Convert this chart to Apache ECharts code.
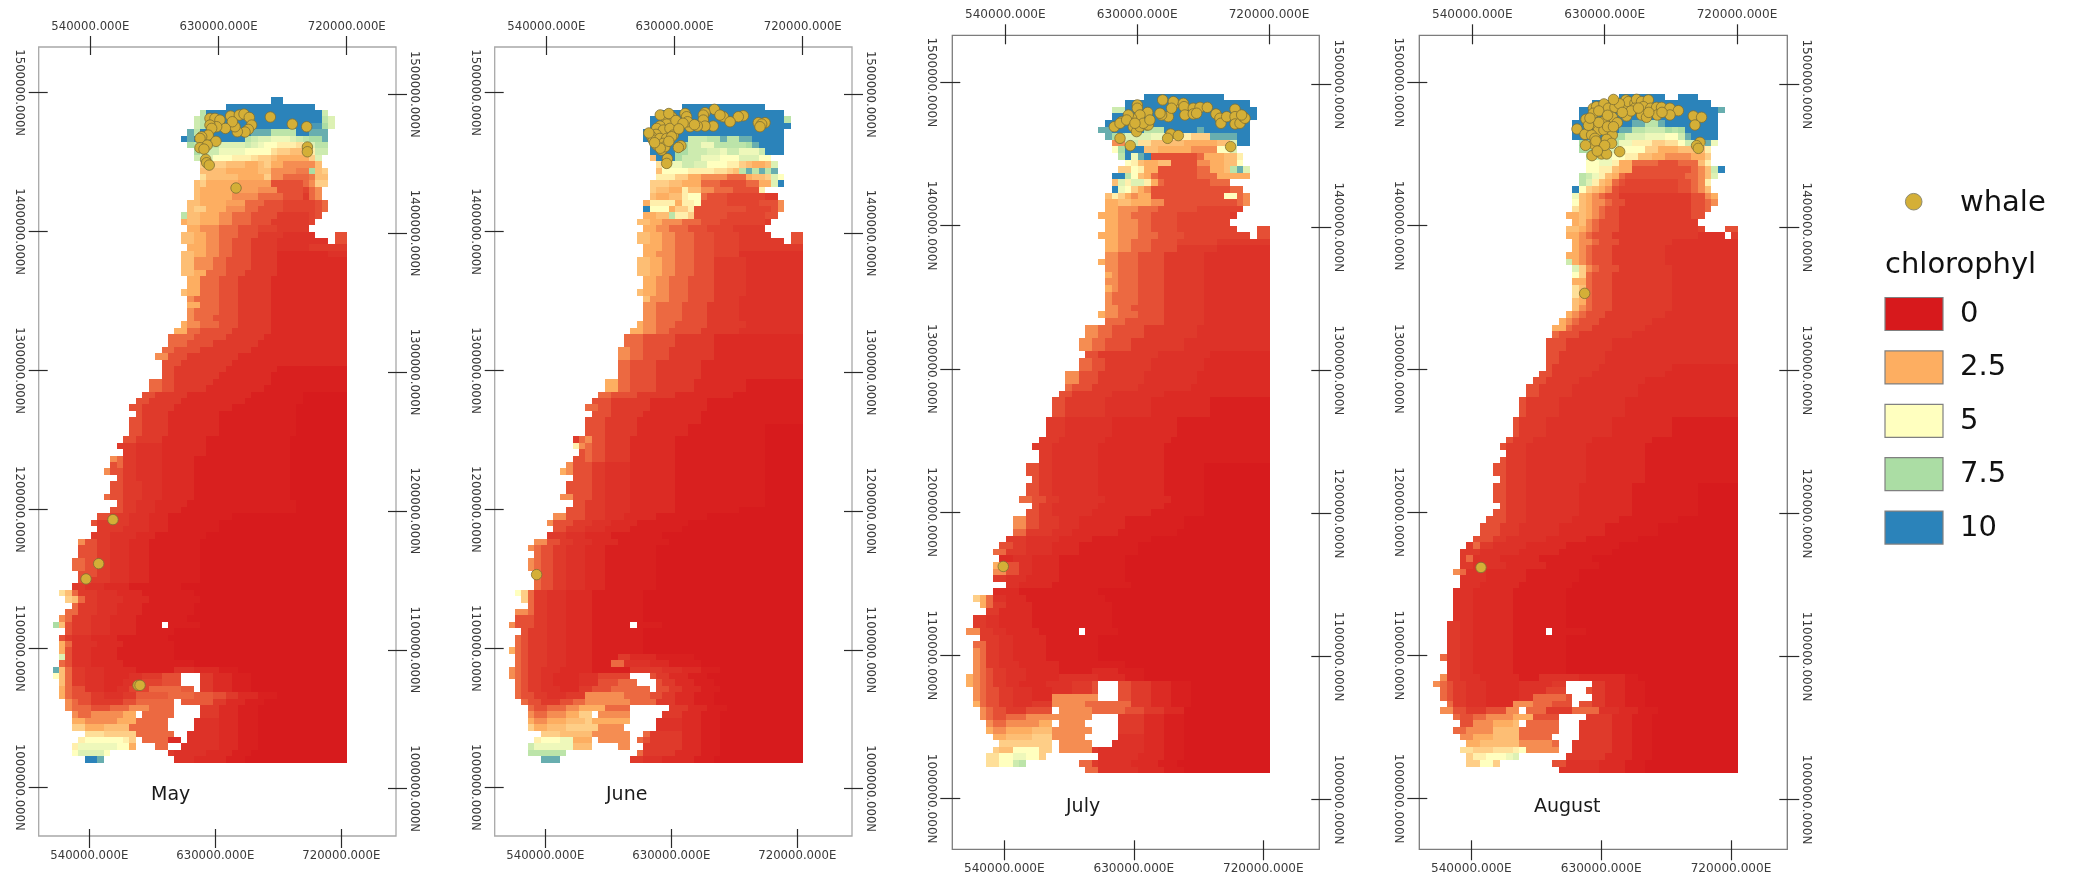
<!DOCTYPE html>
<html><head><meta charset="utf-8">
<style>html,body{margin:0;padding:0;background:#fff}#c{width:2073px;height:877px}</style>
<script src="https://cdn.jsdelivr.net/npm/echarts@6/dist/echarts.min.js"></script>
</head><body><div id="c"></div>
<script>
// Chlorophyll rasters, one run-length string per row, north to south.
// Each row: first column, then letter (level) + optional repeat; "_" is no data.
// From row 23 southward the last run reaches the raster's east edge.
const levelLetters = 'abcdefghijklmnopqrstuvwxyz';
const levelValues = [.03,.12,.3,.42,.55,.7,.9,1.1,1.35,1.65,1.95,2.25,2.5,3,3.5,4,4.5,5,5.5,6,6.5,7,7.5,8.8,9.4,10];
const mayRows = ["34z2","27z14","23vz18u","22uvz18vt","22uvz16yywt","21xvz8x3v4z2x3","20zxz8vutts3tuvwwx","21wv4t4utsr2q3prtv2","22wu3s4r4poon2oqu2","22ut2r3q3poonm5ot",
"23o4n3m2nom2k4kn","23n4m5n2k4j2wno","23pn5m4okki4jn2","22nom5l5g5ikoo","22nm5l4k3g4fik","22nm5k4i4g3eik","21n2m4l3i3g3f5gi","21noom3k3i2g4f5gi","20vn2m3k2i3g4e5fg","20mn2m3k2i3g3e6f",
"21m2k3i3g3f3e5","20n2m2k2i3g3e4d5_3g2","20n2m2k2i2g3e4d8_gg","21m3k2i2g3e4d5e6","20n2m2k2i2g3e4c8d3","20n2k3i2g4e4c11","20n2k3i2g4e4c11","20n2m2i3g3e5c11","21m2i3g3e5c12","21m2i3g3e5c12",
"20nm2i3g3e5c12","21ki4g3e5c12","21m2i3g3e5c12","21ki4g3e5c12","21ki3g4e5c12","20mk2i3g3e5c12","19m2i2g5e6c12","18i4g5e6c13","18i3g4e7c14","17i2g4e8c15",
"16k2g3e8c17","17g3e8c18","17g2e8c8b11","17g2e7c8b12","15i2g2e6c9b12","15i2g2e5c9b13","14g2e5c10b8a7","13g2e5c10b9a7","12g2e5c9b10a8","13ge4c8b12a8",
"12g2e4c8b12a8","12g2e4c8b12a8","12g2e4c8b12a8","11g2e4c7b13a9","10e3d4c7b13a9","11e2d4c7b13a9","9kie2d4c5b15a9","9gie2d4c5b15a9","8kg2e2d4c5b15a9","10ge2d4c5b15a9",
"9g2e3d3c5b15a9","9g2e3d3c5b15a9","8ig2e3d3c5b15a9","10ge2d3c5b17a8","9g2e2d3c4b18a8","7g2e3d3c3b10a18","6ge5d3c3b8a20","7e4d4c3b8a20","6e3d4c3b8a22","4kg2e2d3c3b8a23",
"4g3e2d3c3b8a23","4g3e2d3c3b8a23","3i2g2e2d3c3b8a23","3i2g2e2d3c3b8a23","4g3e2d3c3b8a23","4g2e3d3c3b8a23","3e2d3c4b8a26","1pnie3d3c4b8a24","2onie2d4c4b8a23","3ie3d3c4b8a24",
"2i2e3d3c4b8a24","1kie3d3c4b8a25","0wnge3d3c4b4_b5a23","2ge3d3c4b6a27","1ged3c4b8a28","1mid4c4b8a27","1mgd3c4b9a27","1tgd3c4b9a27","1igd3c5b11a24","0xnie2d3c5b6d3c4b3a18",
"0rnie2d3c4d2e3g3_3e2c3b3a16","1nie2d3c3d3f3g3_3e2c3b3a16","1mig2d3c2d2f3i5h2_e2c3b3a16","1mig3e2d3e2h5i4h3g2e2c3b3a14","2kig2e5g2i6_h5e2c3b3a16","2kii2g3i3k3i4_4e3c3b3a16","3ki2k5m2_i5_4e3c3b3a16","3m2k5m3i5_4d4c3b3a16","3o2m3n4ii5_4d4c3b3a16","5p3o5i6_2d5c3b3a16",
"4qr6qo_i4c2_d5c3b3a16","3qs6r2m_3i2_2d6c3b3a16","3rt4r_9ed5c4b3a17","5z2x_11d3c5b3a18"];
const juneRows = ["","27z13","24z19","22z21v","22z22","21z22","21z7u3v2xv2x2z5","22z5wu2s2v5wxz4","22z4w2u3t2su2s3uz3","22nz3wu3s3r3t3r2",
"23ps3u2t2r3q2onmmnt","23nr4q4p2onvxvxvx","23q3o2m2k4i3mn2otr","22o3n2m3i3g4i2m2tz","22on2m2qn2k2i3g4q","22nm2n2qr2ig3f6e2","21mq4mq2rg4f5g3k","21zr3mo2qg8f4gk","21m2n2vq2og5f6g2","20n2m2k3i3g3f7e",
"21m2k2i3g3f4e5","20n2m2k2i3g3f4e5_3gg","20n2m2k2i3g3f4e7_gg","21m3k2i3g3f4e10","21m2k3i3g3f4d10","20n2m2k2i3g3e5d9","20n2m2k2i3g3e5d9","20n2m2k2i3g3e5d9","21m2k2i3g4e5d9","21m2k2i3g4e5d9",
"20nm2k2i3g4e5d9","21nk3i3g4e4d10","21k2i4g4e5d10","21k2i4g4e5d10","21k2i4g4e5d10","20mk2i3g5e6d9","19m2k2i2g5e6d10","18i3g5e6c14","18i3g5e6c14","17k2i2g4e7c14",
"17k2i2g4e7c14","17i2g4e7c16","17i2g4e7c16","17i2g4e7c16","15m2i2g4e6c8b9","15m2i2g4e6c8b9","14i2g4e6c9b11","13g3e6c9b15","12i2g2e6c9b15","13g3e5c9b16",
"12g3e5c10b16","12g3e5c8b12a6","12g3e5c8b12a6","10eikg2e4c7b14a6","10qkig2e4c7b14a6","11gig2e4c7b14a6","10ggig2e4c7b14a6","9kg3e2d4c7b14a6","8mkg3e2d4c7b14a6","10g3e2d4c7b14a6",
"9g4e2d4c7b14a6","9g4e2d4c7b14a6","8k2g3e2d4c7b14a6","10g2e3d4c7b14a6","9g3e3d4c7b10a10","7k2g3e3d3c5b8a15","6kg3e3d3c4b8a18","7g2e3d3c4b8a19","6e3d3c4b8a22","4k2g2e2d3c4b8a21",
"3kig2e2d3c3b8a23","4ig2e2d3c3b8a23","3kig2e2d3c3b8a23","3kig2e2d3c3b8a23","4kg2e2d3c3b8a23","4ig2e2d3c3b8a23","4ig2e2d3c3b8a23","1roie2d3c4b8a25","2oie2d3c4b8a25","3ie2d3c4b8a25",
"1k2ie2d3c4b8a25","1g3e2d3c4b8a25","0kg3e2d3c4b6_b4a24","2ge3d3c4b8a25","1ige3d3c4b8a25","1ige3d3c4b8a25","0mige3d3c4b8a25","1ige3d3c4b4e2c4b6a17","1ige3d3c4b3i2d4c3b5a16","0kige2d3c5b6e5d3c3b3a14",
"0kige2d2c4d3f5_3ge2c3b3a15","1ige2d2c4d3g3i3_3ge2c3b3a15","1ige2d3c3e2g3i6_g2e2c3b3a14","1ig2e2d3e3k6i4g2e2c3b3a14","2ig2e3g2i2k7i4e3c3b3a15","3ig2i3k2m4i4_6e3c3b3a14","3ki2k3m2o2_k5_5e3c3b3a15","3mk2m3n3om6_4d4c3b3a15","3om2n3o5k4_5d4c3b3a15","5o3n5k6_2ie5c3b3a15",
"4qr3s2m3_k5_ige5c3b3a15","3us6n3_4k2_2e6c3b3a15","3v6_11ie5c4b3a15","5x3_11e2d3c5b3a16"];
const julyRows = ["","27z12","24z19","22u2z20","22z22","21z22","20x2z5v3z5xz7","21xw2t4s3q3o3x4z2","22k2u2p2n5m5n2tz2","22rwz3n2m5k4r2t",
"23vzsxzg7im3n2q","24rqnm2n2g4k2m2n2r","23o2rqm2g6i2m2nvxt","22z2vrnmig6i3m5","22ntqt2qmig7i3","22zsromkg12i2","21nqomkm2g11r2ik","21m2n2m3k2g11ik","21m2k3i3g6f7","20mm2k2i3g4f8e",
"21m2k3i2g4f8","21m2k3i2g4f9_3gg","20mm2k3i3g4f10_gg","21m2k2i3g4f6e8","21m2k2i3g4e6d8","21k2i3g4e6d10","20mk2i3g4e6d10","21k2i3g4e6d10","21mki3g4e6d10","21k2i3g4e6d10",
"21mki3g4e6d10","21ki4g4e6d10","21ki4g4e6d10","21k2i2g5e6d10","20mk2i3g4e6d10","21i3g6e6d10","18k2i2g5e8d11","18k2i2g5e8d11","17k2i2g4e8d13","17k2i2g4e8d13",
"18g2e9d8c9","17i2g2e7d8c10","17i2g2e7d8c10","15k2g3e7d8c11","15k2g3e7d8c11","15ig3e7d8c12","14g2e6d8c16","13g2e6d7c9b9","13g2e6d7c9b9","13g2e6d7c9b9",
"12e3d7c10b14","12e3d7c10b14","12e3d7c10b14","11e3d7c10b15","10e3d7c10b16","11e2d7c10b16","11e2d7c10b16","9g2e2d7c10b6a10","9g2e2d7c10b6a10","10ge2d7c10b6a10",
"9g2e2d7c10b6a10","9g2e2d7c10b6a10","8i2g2e2d7c10b5a10","10ge2d7c10b6a10","9g2e2d6c9b8a10","7k2g2e3d3c7b9a13","7k2g2e3d3c7b9a13","7i2e4d3c7b9a14","6e3d5c5b9a18","5g2e2d4c4b9a20",
"4i2e3d4c4b9a20","5c2d3c4b10a22","4m2g2d2c4b10a22","4k2g2d2c4b10a22","4e2d3c5b10a22","6d2c5b12a21","4c4b12a26","1omid2c3b12a25","2mie2c4b12a24","3e2c5b12a24",
"1e2d2c5b12a24","1e2d2c5b12a24","0k2e2d2c5b6_b5a23","2e3d2c5b8a26","1i2e2d2c5b8a26","1kie2d2c5b8a26","1kie2d2c5b8a26","1kie2d3c6b10a22","1kige2d3c5b5c4b4a19","0mkige2d3c5d6c4b3a17",
"0mkige2d2c4d4e3g_3g2e3c3b3a12","1kig2e2d3c3d3e3g_3g2e3c3b3a12","1kig2e2d3c3k7_3g2e3c3b3a12","1mig2e2d3e3k5i7e3c3b3a15","2kig2e3g4_k5i5g3e3c3a16","2kig2i3k4k6_4e4c3b3a15","3ki2k5m2_k4_5e4c3b3a15","3mk2m4n3k6_4e4c3b3a15","4m2n4o3k5_5d4c3b3a15","5o8_k5_3d5c3b3a15",
"4on2r4o2_k5ed7c3b3a15","3p2r2s2r2o_8d6c4b3a15","3p2r2uv_8i2ed5c4b3a15","18i2d6c4b3a15"];
const augustRows = ["","28z7_2z3","24z18","22z21x","22z21","21z9x2v2xz8","21z7x2v2u3wvwz5","21z6w2t3s3r2uxz4","22w3v3s2q3o2p2ru3xs","22w2u2t2r4o2m3n4q",
"23u2s2r2q2n2m2k4m2o","23r2s2qm2i4g3i3nq","23r2q2nm2g9iknuz","22vusqnmig9i2knt","22vtqnmigf8g2ikq","21zronmkgf9g2ikn","21snmkig2e11g2km","21rnmk2ig2e10g2ik","21pnmkig2e11g2i","20m2nmkig2e11g2",
"21mnkig3e12","20n2mkig3e12f_3g2","20m2kig3e13d4_e","21mk2ig3e8d10","21mkig3e8d11","20mmkig3e8d11","20umkig3e8d11","21tokig3e8d10","21roig3e9d10","21m2ig3e9d10",
"21pnig3e9d10","21pmig3e9d10","21nmig3e9d10","21nkig3e9d10","20mkig3e9d11","19mkig3e8d13","18m2ig3e8d14","18ig3e8d16","17g3e7d19","17g3e7d19",
"17g2e7d20","17g2e7d20","17ge7d11c9","16g2e6d11c11","15g2e5d10c14","14g2e5d10c15","14g2e5d10c15","13ge5d10c17","13ge5d10c17","13ge5d10c17",
"12ge4d10c9b10","12ge4d10c9b10","12ge4d10c9b10","11ge3d9c9b13","10ge3d9c9b14","11e3d9c9b14","10ge3d9c9b14","9g2e3d9c9b14","9g2e3d9c9b14","10ge3d9c9b14",
"9g2e3d8c8b10a6","9g2e3d8c8b10a6","9g2e3d8c8b10a6","10ge3d8c8b10a6","9g2e3d8c8b10a6","8g3e3d7c7b9a9","7g3e3d6c7b8a12","7g3e3d6c7b8a12","6g3e2d6c6b8a15","5eie2d5c6b8a18",
"4e3d6c6b8a19","4eid4c6b8a22","4e2d5c6b8a21","3kid3c6b8a24","4d4c6b8a24","4d3c6b8a25","3d3c6b8a26","3d3c6b8a26","3d3c6b8a26","3d3c6b8a26",
"3d3c6b8a26","2e2d2c6b8a26","2e2d2c6b5_b5a23","2e2d2c6b8a26","2e2d2c6b8a26","2e2d2c6b8a26","1ie2d2c6b8a26","2e2d2c6b8a26","2e2d2c6b8a26","1ke2d3c6b3d6c7b2a15",
"0kige2d3c5d5e2_4e2c3b3a15","1ige2d3c5d4f3_3ge2c3b3a15","1ige2d3c5d2i5g_3e2c3b3a15","2ie2d3c4k3i3g3_g2e2c3b3a16","1k2g2e3g3k2_i3e4i4d3c3b3a15","3ig2i2k4m3g4_4e4c3b3a15","4g2k3m3n_i5_3e5c3b3a15","3i2k4n4i6_3e5c3b3a15","4k2m3n4i5_4e5c3b3a15","5m2n6k5i_2e6c3b3a15",
"4p2o3p3qrk5_2e6c3b3a15","5oq2r3st_7e6c4b3a15","5o2r2o_8g2d5c4b3a15","19d6c4b3a15"];

// Whale sightings [easting km, northing km]
const mayWhales = [[624,1481.5],[627.5,1481.5],[631,1480.3],[638.5,1483.2],[644.6,1483.9],[647.9,1484.6],[651.6,1482.2],[653.3,1476.7],[650.9,1473.6],[648.6,1471.7],[643.2,1471.9],[641.6,1475.5],[639.7,1479.1],[634.8,1474.3],[628.7,1475.5],[624,1476.7],[625.2,1474.3],[622.8,1469.5],[618.2,1468.3],[617,1467.1],[628.2,1465],[622.1,1462.3],[617,1460.4],[619.8,1459.4],[621,1452],[621.7,1449.6],[623.5,1447.9],[666.4,1482.5],[681.8,1477.4],[691.9,1475.5],[692.4,1460.9],[692.4,1457.5],[642.3,1431.4],[555.9,1192.7],[545.9,1161],[537,1150],[573.5,1073.4],[574.9,1073.4]];
const juneWhales = [[658,1488],[637.4,1485],[638.5,1482.7],[651.4,1485.6],[650.2,1483.9],[650.2,1480.3],[664.3,1482.7],[661.9,1483.9],[678.3,1483.4],[674.8,1482.7],[669,1479.1],[657.2,1476],[651.4,1476],[646,1476],[640.9,1475.5],[639.2,1479.1],[633.8,1476.7],[631.5,1476],[629.2,1479.1],[623.3,1482.7],[628,1482.7],[624.5,1477.4],[619.8,1476],[617.5,1474.3],[622.1,1473.1],[626.8,1474.3],[629.2,1469.5],[617,1470],[614,1468.3],[615.1,1465.9],[619.8,1467.1],[624.5,1467.1],[628,1468.3],[617.5,1462.3],[622.1,1463.5],[621,1458.7],[623.3,1461.1],[634.5,1461.8],[632.7,1460.6],[625,1452.5],[624.5,1449.1],[688.8,1478.4],[693.5,1478.4],[691.2,1477.4],[690,1475.5],[533.2,1153.1],[620,1484],[626,1485],[631,1480],[636,1478],[612,1471],[620,1460],[626,1465],[633,1474],[616,1464],[644,1477]];
const julyWhales = [[630.1,1484.2],[630.1,1481.9],[647.4,1487.7],[655.8,1485.3],[654.7,1486.5],[661.5,1485.3],[662,1483],[668.3,1481.9],[672.9,1482.5],[677.9,1482.5],[683.8,1477.9],[686.5,1474.9],[687.2,1471.4],[691.1,1476],[696.8,1481.2],[696.8,1476],[696.8,1470.9],[700.2,1471.4],[702.5,1476],[703.6,1474.9],[701.3,1477.2],[662.6,1477.2],[668.3,1477.9],[670.6,1478.4],[651.3,1476],[646.7,1477.2],[645.6,1478.4],[653.5,1481.9],[637.2,1479],[631.9,1477.2],[626.2,1474.9],[624,1477.2],[619.4,1472.5],[614.4,1469],[618.3,1471.4],[622.8,1473.7],[627.4,1469],[629.6,1465.6],[631.9,1469],[636.5,1470.2],[637.6,1470.2],[634.2,1471.4],[628.5,1471.4],[618.3,1460.9],[625.3,1455.8],[652.9,1463.9],[650.8,1460.9],[658.1,1462.8],[693.8,1455.1],[638.7,1473.7],[538.6,1162.1]];
const augustWhales = [[622.3,1481.9],[624.5,1483],[629.5,1484.9],[632.5,1481.9],[637,1482.5],[644.5,1487.7],[644.3,1484.2],[646.1,1486.5],[650.6,1485.3],[651.7,1488.1],[655.1,1486.5],[659.7,1487.7],[656.3,1483],[650.6,1481.9],[661.3,1481.9],[665.3,1482.5],[668.7,1482.5],[674.4,1481.9],[680.1,1480.2],[674.4,1477.2],[665.8,1477.2],[655.1,1477.2],[658.5,1475.6],[644.9,1476.5],[635.2,1475.6],[629.8,1473],[638.6,1471.8],[622.3,1478.4],[617.3,1474.2],[621.1,1470.9],[625.7,1466.3],[629.5,1466.7],[611.2,1467.4],[616.6,1463.7],[621.1,1463.2],[623.4,1460.9],[635.2,1463.2],[631.3,1460.2],[622.7,1456.7],[627.9,1455.1],[634.7,1457.4],[621.4,1448.8],[627.9,1450],[631.3,1450],[640.2,1451.6],[690.3,1476.5],[695.9,1475.6],[691.4,1470.2],[694.8,1458.1],[692.5,1455.8],[693.7,1453.9],[616.4,1352.7],[545.9,1161.4],[626,1480],[632,1477],[640,1485],[648,1480],[653,1482],[660,1479],[669,1479],[619,1470],[626,1472],[632,1469],[624,1459],[630,1456],[636,1488],[620,1475],[625,1452],[617,1456],[636,1469],[642,1479]];

const eastTicks = [540,630,720];
const northTicks = [1000,1100,1200,1300,1400,1500];
const monthLabels = ['May','June','July','August'];
const legendValues = [0,2.5,5,7.5,10];
const rampColors = ['#d7191c','#fdae61','#ffffbf','#abdda4','#2b83ba'];
const whaleColor = '#d4af37', whaleEdge = '#7d6f33';
const CELL_W = 4.5, CELL_H = 4.605, RASTER_EAST = 720.5, RASTER_TOP = 1496.7, COLS = 46, BODY_ROW = 23;

const panels = [
 {rows:mayRows,whales:mayWhales,L:38.7,R:396,T:47,B:836,top:[503.77,754.6],bot:[503.86,759.07],left:[964.94,1532.9],right:[965.94,1534.06],frame:'#a8a8a8',fs:11.7,o:[-8,-7,-9,-8],len:19,m:[22,21,23,20],mx:151,my:798,msize:19},
 {rows:juneRows,whales:juneWhales,L:494.7,R:852,T:47,B:836,top:[503.77,754.6],bot:[503.86,759.07],left:[964.94,1532.9],right:[965.94,1534.06],frame:'#a8a8a8',fs:11.7,o:[-8,-7,-9,-8],len:19,m:[22,21,23,20],mx:606,my:798,msize:19},
 {rows:julyRows,whales:julyWhales,L:952.3,R:1319.3,T:35.3,B:849.3,top:[503.82,754.33],bot:[503.86,758.9],left:[964.69,1532.8],right:[965.33,1534.25],frame:'#7c7c7c',fs:12.1,o:[-9,-9,-8,-8],len:20,m:[23,23,23,21],mx:1066,my:810,msize:19},
 {rows:augustRows,whales:augustWhales,L:1419.3,R:1787.3,T:35.3,B:849.3,top:[503.96,754.2],bot:[503.96,759.02],left:[964.69,1532.8],right:[965.33,1534.25],frame:'#7c7c7c',fs:12.1,o:[-9,-9,-8,-8],len:20,m:[23,23,23,21],mx:1534,my:810,msize:19}
];

function decodeRows(rows){
  const out=[];
  rows.forEach((row,r)=>{
    const m=row.match(/^(\d*)(.*)$/); let col=+m[1], last=null;
    const put=(ch)=>{ if(ch!=='_' && col<COLS) out.push([RASTER_EAST-COLS*CELL_W+(col+.5)*CELL_W, RASTER_TOP-(r+.5)*CELL_H, levelValues[levelLetters.indexOf(ch)]]); col++; };
    for(const t of m[2].matchAll(/([a-z_])(\d*)/g)){
      const n=t[2]===''?1:+t[2]; last=t[1];
      for(let i=0;i<n;i++) put(t[1]);
    }
    if(r>=BODY_ROW && last) while(col<COLS) put(last);
  });
  return out;
}
function renderCell(p,api){
  const x=api.value(0),y=api.value(1);
  const a=api.coord([x-CELL_W/2,y+CELL_H/2]),b=api.coord([x+CELL_W/2,y-CELL_H/2]);
  const x0=Math.round(a[0]),y0=Math.round(a[1]);
  return {type:'rect',shape:{x:x0,y:y0,width:Math.round(b[0])-x0,height:Math.round(b[1])-y0},style:{fill:api.visual('color')}};
}
const grid=[],xAxis=[],yAxis=[],series=[],graphic=[],rasterIdx=[];
const lblColor='#3a3a3a',tickColor='#2a2a2a',FONT='"DejaVu Sans"';
panels.forEach((p,i)=>{
  grid.push({show:true,left:p.L,top:p.T,width:p.R-p.L,height:p.B-p.T,borderColor:p.frame,borderWidth:1.3,backgroundColor:'#fff'});
  const tick={show:true,length:p.len,customValues:null,lineStyle:{color:tickColor,width:1.2}};
  const ax=(pos,range,vals,fmt,off,mg,rot)=>({gridIndex:i,type:'value',position:pos,min:range[0],max:range[1],offset:off,
    axisLine:{show:false},splitLine:{show:false},axisTick:{...tick,customValues:vals},
    axisLabel:{show:true,customValues:vals,formatter:fmt,margin:mg,rotate:rot,color:lblColor,fontFamily:FONT,fontSize:p.fs}});
  const fe=v=>(v*1000).toFixed(3)+'E', fn=v=>(v*1000).toFixed(3)+'N';
  const xi=xAxis.length, yi=yAxis.length;
  xAxis.push(ax('top',p.top,eastTicks,fe,p.o[0],p.m[0],0));
  xAxis.push(ax('bottom',p.bot,eastTicks,fe,p.o[1],p.m[1],0));
  yAxis.push(ax('left',p.left,northTicks,fn,p.o[2],p.m[2],-90));
  yAxis.push(ax('right',p.right,northTicks,fn,p.o[3],p.m[3],-90));
  rasterIdx.push(series.length);
  series.push({type:'custom',name:'chlorophyl '+monthLabels[i],xAxisIndex:xi,yAxisIndex:yi,data:decodeRows(p.rows),encode:{x:0,y:1},renderItem:renderCell,silent:true,progressive:0,clip:false,z:2});
  series.push({type:'scatter',name:'whale',xAxisIndex:xi,yAxisIndex:yi,data:p.whales,symbol:'circle',symbolSize:10.5,silent:true,z:3,
    itemStyle:{color:whaleColor,borderColor:whaleEdge,borderWidth:.8,opacity:1}});
  graphic.push({type:'text',left:p.mx,top:p.my-12,z:10,style:{text:monthLabels[i],font:p.msize+'px '+FONT,fill:'#1a1a1a'}});
});
// legend
const LX=1885,TX=1960;
graphic.push({type:'circle',z:10,shape:{cx:1913.7,cy:201.7,r:8.3},style:{fill:whaleColor,stroke:'#8d8a70',lineWidth:1}});
graphic.push({type:'text',z:10,x:TX,y:203,style:{text:'whale',font:'29px '+FONT,fill:'#111',verticalAlign:'middle'}});
graphic.push({type:'text',z:10,x:LX,y:265,style:{text:'chlorophyl',font:'29px '+FONT,fill:'#111',verticalAlign:'middle'}});
legendValues.forEach((v,i)=>{
  const y=297.5+i*53.4;
  graphic.push({type:'rect',z:10,shape:{x:LX,y:y,width:58,height:33},style:{fill:rampColors[i],stroke:'#808080',lineWidth:1.2}});
  graphic.push({type:'text',z:10,x:TX,y:y+17,style:{text:String(v),font:'29px '+FONT,fill:'#111',verticalAlign:'middle'}});
});
const chart=echarts.init(document.getElementById('c'),null,{renderer:'canvas'});
chart.setOption({animation:false,backgroundColor:'#fff',tooltip:{show:false},grid,xAxis,yAxis,series,graphic,
  visualMap:{show:false,type:'continuous',min:0,max:10,dimension:2,seriesIndex:rasterIdx,inRange:{color:rampColors}}});
</script></body></html>
